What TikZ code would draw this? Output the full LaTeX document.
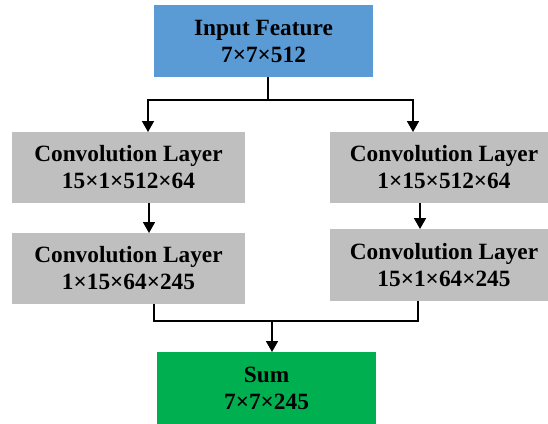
\documentclass[tikz,border=0pt]{standalone}
\usepackage{fontspec}
\setmainfont{Liberation Serif}
\usetikzlibrary{arrows.meta}

\definecolor{inputblue}{HTML}{5B9BD5}
\definecolor{layergray}{HTML}{BFBFBF}
\definecolor{sumgreen}{HTML}{00B050}

\begin{document}
\begin{tikzpicture}[x = 1bp, y = -1bp, % pixel-like units, y down
                > = {Triangle[length=11bp, width=12bp]}, % arrow head style
                line width = 1.7bp % line style
            ]

            \tikzstyle{every node}=[inner sep = 0pt, outer sep = 0pt,
            align = center, font = \fontsize{23.3bp}{27bp}\selectfont\bfseries]
            \tikzstyle{inbox}=[fill = inputblue, minimum width = 219bp,
            minimum height = 72bp]
            \tikzstyle{layer}=[fill = layergray, minimum width = 233bp,
            minimum height = 71bp]
            \tikzstyle{sumbox}=[fill = sumgreen, minimum width = 219bp,
            minimum height = 72bp]

            \useasboundingbox (0,0) rectangle (548,423);

            \node[inbox] (in) at (263.5,41) {Input Feature\\7×7×512};
            \node[layer] (c1l) at (128.5,167.5)
            {Convolution Layer\\15×1×512×64};
            \node[layer, minimum width = 228bp] (c1r) at (444,167.5)
            {Convolution Layer\\1×15×512×64};
            \node[layer] (c2l) at (128.5,268.5)
            {Convolution Layer\\1×15×64×245};
            \node[layer, minimum width = 228bp, minimum height = 72bp] (c2r)
            at (444,265) {Convolution Layer\\15×1×64×245};
            \node[sumbox] (sum) at (266.5,388) {Sum\\7×7×245};

            % split to both branches
            \draw ([xshift=4.5bp]in.south) -- ++(0,23) coordinate (split);
            \draw[->] (split) -| ([xshift=19.5bp]c1l.north);
            \draw[->] (split) -| ([xshift=-31bp]c1r.north);

            \draw[->] ([xshift=20.5bp]c1l.south) -- ([xshift=20.5bp]c2l.north);
            \draw[->] ([xshift=-24bp]c1r.south) -- ([xshift=-24bp]c2r.north);

            % merge into sum
            \path ([xshift=5.5bp]sum.north) ++(0,-31) coordinate (merge);
            \draw ([xshift=25.5bp]c2l.south) |- (merge)
            -| ([xshift=-26bp]c2r.south);
            \draw[->] (merge) -- ([xshift=5.5bp]sum.north);
        \end{tikzpicture}
\end{document}
